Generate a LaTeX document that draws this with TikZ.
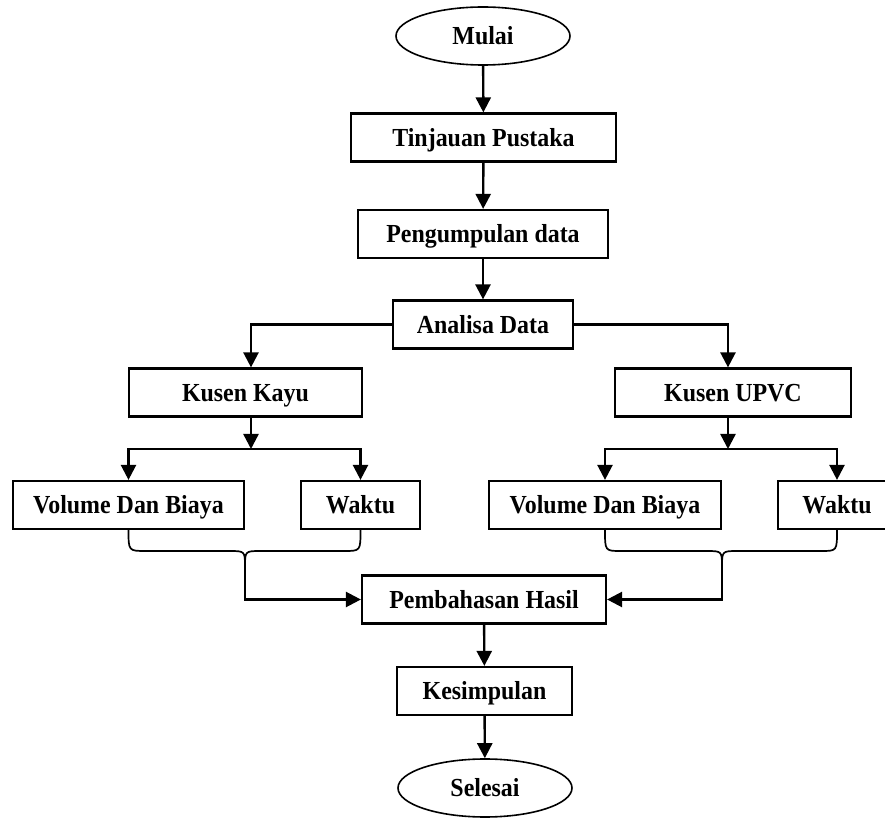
\documentclass[tikz,border=0pt]{standalone}
\usepackage{fontspec}
\setmainfont{Liberation Serif}[FakeStretch=0.92]
\usetikzlibrary{shapes.geometric,arrows.meta}

\begin{document}
\begin{tikzpicture}[x=0.5pt,y=-0.5pt,
    txt/.style={font=\fontsize{13}{15}\selectfont\bfseries,text height=8.6pt,text depth=0pt},
    box/.style={txt,draw,line width=1.1pt,minimum height=24pt,inner sep=0pt},
    term/.style={txt,draw,ellipse,line width=0.8pt,minimum width=87pt,minimum height=29pt,inner sep=0pt},
    arr/.style={line width=1.2pt,-{Triangle[length=7.5pt,width=7.5pt]}},
    brace/.style={line width=0.85pt}]
    \useasboundingbox (0,0) rectangle (885,818);

    \node [term] (mulai) at (483,36) {Mulai};
    \node [box,minimum width=132.5pt] (tinjauan) at (483.5,137.5) {Tinjauan Pustaka};
    \node [box,minimum width=125pt] (kumpul) at (483,234) {Pengumpulan data};
    \node [box,minimum width=90pt] (analisa) at (483,324.5) {Analisa Data};

    \node [box,minimum width=116.5pt] (kayu) at (245.5,392.5) {Kusen Kayu};
    \node [box,minimum width=118pt] (upvc) at (733,392.5) {Kusen UPVC};

    \node [box,minimum width=115.5pt] (vbL) at (128.5,505) {Volume Dan Biaya};
    \node [box,minimum width=59.5pt] (waktuL) at (360.5,505) {Waktu};
    \node [box,minimum width=116pt] (vbR) at (605,505) {Volume Dan Biaya};
    \node [box,minimum width=59pt] (waktuR) at (837,505) {Waktu};

    \node [box,minimum width=122pt] (hasil) at (484,599.5) {Pembahasan Hasil};
    \node [box,minimum width=87.5pt] (simpul) at (484.5,691) {Kesimpulan};
    \node [term] (selesai) at (485,788) {Selesai};

    \coordinate (xk) at (251,0);
    \coordinate (xu) at (728,0);
    \coordinate (jl) at (251,449);
    \coordinate (jr) at (728,449);
    \coordinate (cl) at (245,567);
    \coordinate (cr) at (722,567);

    % main line
    \draw [arr] (mulai) -- (tinjauan);
    \draw [arr] (tinjauan) -- (kumpul);
    \draw [arr] (kumpul) -- (analisa);
    \draw [arr] (analisa.west) -| (xk |- kayu.north);
    \draw [arr] (analisa.east) -| (xu |- upvc.north);

    % branches
    \draw [arr] (xk |- kayu.south) -- (jl);
    \draw [arr] (jl) -| (vbL.north);
    \draw [arr] (jl) -| (waktuL.north);
    \draw [arr] (xu |- upvc.south) -- (jr);
    \draw [arr] (jr) -| (vbR.north);
    \draw [arr] (jr) -| (waktuR.north);

    % braces
    \draw [brace] (vbL.south) .. controls (128.5,551) .. (146,551) -- (229,551) .. controls (245,551) .. (cl);
    \draw [brace] (waktuL.south) .. controls (360.5,551) .. (344,551) -- (261,551) .. controls (245,551) .. (cl);
    \draw [brace] (vbR.south) .. controls (605,551) .. (621,551) -- (706,551) .. controls (722,551) .. (cr);
    \draw [brace] (waktuR.south) .. controls (837,551) .. (821,551) -- (738,551) .. controls (722,551) .. (cr);
    \draw [arr] (cl) |- (hasil.west);
    \draw [arr] (cr) |- (hasil.east);

    \draw [arr] (hasil) -- (simpul);
    \draw [arr] (simpul) -- (selesai);
\end{tikzpicture}
\end{document}
